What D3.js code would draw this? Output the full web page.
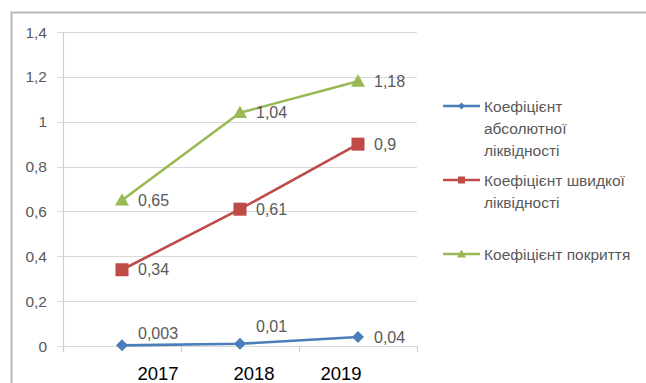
<!DOCTYPE html>
<html><head><meta charset="utf-8">
<script src="https://cdn.jsdelivr.net/npm/d3@7"></script>
<style>
html,body{margin:0;padding:0;background:#fff;}
svg{display:block;}
</style></head>
<body>
<script>
const years = ["2017","2018","2019"];
const absLiquidity = [0.003, 0.01, 0.04];
const quickLiquidity = [0.34, 0.61, 0.9];
const coverage = [0.65, 1.04, 1.18];
const absLabels = ["0,003","0,01","0,04"];
const quickLabels = ["0,34","0,61","0,9"];
const coverLabels = ["0,65","1,04","1,18"];
const seriesNames = [["Коефіцієнт","абсолютної","ліквідності"],["Коефіцієнт швидкої","ліквідності"],["Коефіцієнт покриття"]];
const yTicks = [0,0.2,0.4,0.6,0.8,1,1.2,1.4];
const yTickLabels = ["0","0,2","0,4","0,6","0,8","1","1,2","1,4"];

const W=646,H=383;
const svg=d3.select("body").append("svg").attr("width",W).attr("height",H);
svg.append("rect").attr("x",11.5).attr("y",12.5).attr("width",W).attr("height",H).attr("fill","none").attr("stroke","#b7b7b7").attr("stroke-width",2);

const x=d3.scaleBand().domain(years).range([63,417]).padding(0);
const y=d3.scaleLinear().domain([0,1.4]).range([346,32]);
const font="'Liberation Sans', Arial, sans-serif";

// gridlines
svg.append("g").selectAll("line").data(yTicks).join("line")
 .attr("x1",57).attr("x2",417).attr("y1",d=>Math.round(y(d))+0.5).attr("y2",d=>Math.round(y(d))+0.5)
 .attr("stroke","#d9d9d9").attr("stroke-width",1.2);
// y axis line
svg.append("line").attr("x1",63.5).attr("x2",63.5).attr("y1",y(1.4)).attr("y2",y(0)+6).attr("stroke","#d0d0d0").attr("stroke-width",1.2);
// x tick marks
svg.append("g").selectAll("line").data(years.concat(["end"])).join("line")
 .attr("x1",(d,i)=>63+i*x.bandwidth()+0.5).attr("x2",(d,i)=>63+i*x.bandwidth()+0.5)
 .attr("y1",y(0)).attr("y2",y(0)+6).attr("stroke","#d0d0d0").attr("stroke-width",1.2);

// y tick labels
svg.append("g").selectAll("text").data(yTicks).join("text")
 .attr("x",47).attr("y",d=>y(d)+5.5).attr("text-anchor","end")
 .attr("font-family",font).attr("font-size",15.5).attr("fill","#595959")
 .text((d,i)=>yTickLabels[i]);
// x labels (typed over the chart in the original, shifted from band centres)
const xLabelShift=[36,14,-17];
svg.append("g").selectAll("text").data(years).join("text")
 .attr("x",(d,i)=>x(d)+x.bandwidth()/2+xLabelShift[i]).attr("y",380).attr("text-anchor","middle")
 .attr("font-family",font).attr("font-size",18.5).attr("fill","#000")
 .text(d=>d);

const series=[
 {vals:absLiquidity,labels:absLabels,color:"#4a7ebb",marker:"diamond"},
 {vals:quickLiquidity,labels:quickLabels,color:"#be4b48",marker:"square"},
 {vals:coverage,labels:coverLabels,color:"#98b954",marker:"triangle"}
];
const cx=d=>x(d)+x.bandwidth()/2;
const line=d3.line().x(d=>cx(d.year)).y(d=>y(d.v));
function marker(g,type,px,py,s,color){
  if(type==="diamond"){
    g.append("path").attr("d",`M${px},${py-s/2}L${px+s/2},${py}L${px},${py+s/2}L${px-s/2},${py}Z`).attr("fill",color);
  } else if(type==="square"){
    g.append("rect").attr("x",px-s/2).attr("y",py-s/2).attr("width",s).attr("height",s).attr("fill",color);
  } else {
    g.append("path").attr("d",`M${px},${py-s*0.5}L${px+s/2},${py+s*0.38}L${px-s/2},${py+s*0.38}Z`).attr("fill",color);
  }
}
const markerSize={diamond:12,square:13,triangle:14};
// label offsets: first series first two labels above
const labelOffsets=[[[16,-12],[16,-17],[16,0]],[[16,0],[16,0],[16,0]],[[16,0],[16,0],[16,0]]];
series.forEach((s,si)=>{
  const pts=years.map((yr,i)=>({year:yr,v:s.vals[i]}));
  const g=svg.append("g");
  g.append("path").datum(pts).attr("d",line).attr("fill","none").attr("stroke",s.color).attr("stroke-width",2.6).attr("stroke-linejoin","round");
  pts.forEach((p,i)=>{
    marker(g,s.marker,cx(p.year),y(p.v),markerSize[s.marker],s.color);
    const off=labelOffsets[si][i];
    g.append("text").attr("x",cx(p.year)+off[0]).attr("y",y(p.v)+off[1]+5.5)
     .attr("font-family",font).attr("font-size",16).attr("fill","#595959")
     .text(s.labels[i]);
  });
});

// legend
const legY=[106,180,254];
series.forEach((s,si)=>{
  const g=svg.append("g");
  g.append("line").attr("x1",443).attr("x2",480).attr("y1",legY[si]).attr("y2",legY[si]).attr("stroke",s.color).attr("stroke-width",2.6);
  marker(g,s.marker,461.5,legY[si],s.marker==="triangle"?9:7,s.color);
  seriesNames[si].forEach((t,li)=>{
    g.append("text").attr("x",484).attr("y",legY[si]+5.5+li*22)
     .attr("font-family",font).attr("font-size",15.5).attr("fill","#595959").text(t);
  });
});
</script>
</body></html>
